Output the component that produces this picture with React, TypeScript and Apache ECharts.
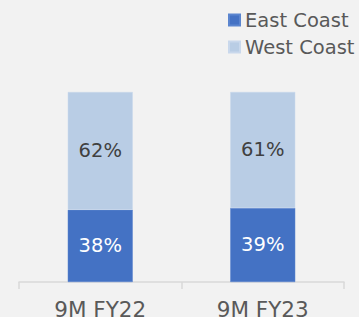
import React, { useEffect, useRef } from "react";
import * as echarts from "echarts";

const categories = ["9M FY22", "9M FY23"];
const eastCoast = [38, 39];
const westCoast = [62, 61];

export default function App() {
  const ref = useRef<HTMLDivElement>(null);
  useEffect(() => {
    const chart = echarts.init(ref.current!, null, { renderer: "svg" });
    const font = "DejaVu Sans";
    chart.setOption({
      animation: false,
      backgroundColor: "#f2f2f2",
      legend: {
        orient: "vertical",
        left: 228,
        top: 10,
        padding: 0,
        itemWidth: 11,
        itemHeight: 11,
        itemGap: 7,
        icon: "rect",
        textStyle: { color: "#595959", fontSize: 19.5, lineHeight: 20, fontFamily: font },
        data: ["East Coast", "West Coast"],
      },
      grid: { left: 19, right: 15, top: 92, bottom: 35, containLabel: false, outerBoundsMode: "none" },
      xAxis: {
        type: "category",
        data: categories,
        axisLine: { lineStyle: { color: "#d9d9d9", width: 1.5 } },
        axisTick: { show: true, length: 7, lineStyle: { color: "#d9d9d9", width: 1.5 } },
        axisLabel: { color: "#595959", fontSize: 21.5, fontFamily: font, margin: 16 },
      },
      yAxis: {
        type: "value",
        min: 0,
        max: 100,
        show: false,
      },
      series: [
        {
          name: "East Coast",
          type: "bar",
          stack: "a",
          data: eastCoast,
          barWidth: "40%",
          itemStyle: { color: "#4472c4", borderColor: "#5b85cf", borderWidth: 0.5 },
          label: { show: true, position: "inside", formatter: "{c}%", color: "#ffffff", fontSize: 19.5, fontFamily: font },
        },
        {
          name: "West Coast",
          type: "bar",
          stack: "a",
          data: westCoast,
          barWidth: "40%",
          itemStyle: { color: "#b9cde5", borderColor: "#c9d8ec", borderWidth: 0.5 },
          label: { show: true, position: "inside", formatter: "{c}%", color: "#404040", fontSize: 19.5, fontFamily: font },
        },
      ],
    });
    return () => chart.dispose();
  }, []);
  return <div ref={ref} style={{ width: 359, height: 317, position: "absolute", left: 0, top: 0 }} />;
}
